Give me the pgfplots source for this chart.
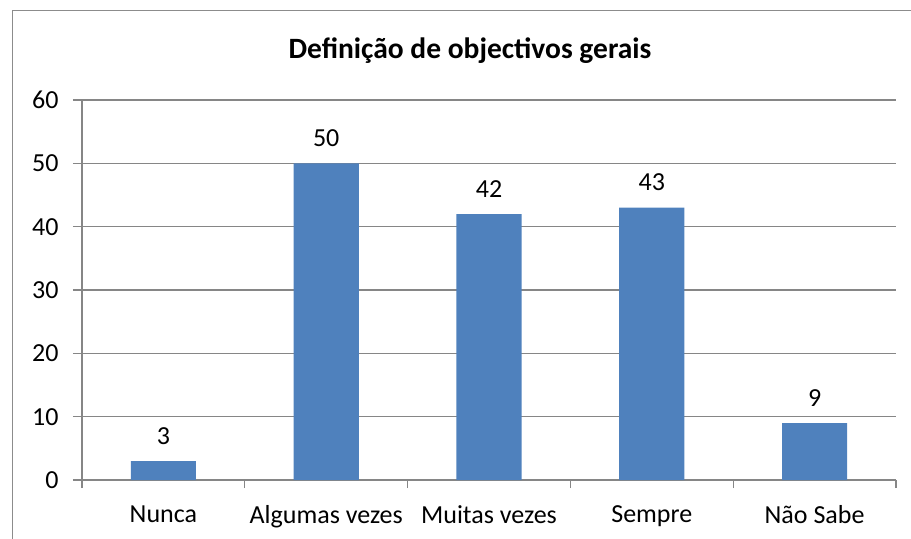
\documentclass[border=0pt]{standalone}
\usepackage{pgfplots}
\pgfplotsset{compat=1.18}
\usepackage{fontspec}
\setmainfont{Carlito}
\definecolor{barblue}{HTML}{4F81BD}
\definecolor{axgray}{HTML}{868686}
\definecolor{framegray}{HTML}{8C8C8C}
\begin{document}
\begin{tikzpicture}[x=1bp,y=1bp]
\begin{axis}[
  at={(82bp,59bp)}, anchor=south west,
  scale only axis, width=814bp, height=380bp,
  ymin=0, ymax=60, ytick={0,10,...,60},
  xmin=-0.5, xmax=4.5,
  xtick={0,1,2,3,4},
  xticklabels={Nunca, Algumas vezes, Muitas vezes, Sempre, Não Sabe},
  minor xtick={-0.5,0.5,1.5,2.5,3.5,4.5},
  major x tick style={draw=none},
  minor tick length=8bp,
  major tick length=9bp,
  tick align=outside,
  axis x line*=bottom, axis y line*=left,
  axis line style={axgray, line width=1.3bp, -},
  tick style={axgray, line width=1.3bp},
  ymajorgrids, grid style={axgray, line width=1.3bp},
  tick label style={font=\fontsize{26bp}{30bp}\selectfont, black},
  yticklabel style={xshift=-11bp},
  xticklabel style={yshift=-13bp},
  /pgf/number format/assume math mode=true,
  ybar, bar width=0.4,
  nodes near coords,
  every node near coord/.append style={font=\fontsize{26bp}{30bp}\selectfont, black, yshift=13bp},
  clip=false,
]
\addplot[fill=barblue, draw=none] coordinates {(0,3) (1,50) (2,42) (3,43) (4,9)};
\end{axis}
\node[font=\bfseries\fontsize{29.5bp}{34bp}\selectfont] at (470bp,488bp) {Definição de objectivos gerais};
\draw[framegray, line width=1.5bp] (12.5bp,-50bp) -- (12.5bp,528.5bp) -- (1000bp,528.5bp);
\pgfresetboundingbox
\useasboundingbox (0,0) rectangle (911bp,539bp);
\end{tikzpicture}
\end{document}
